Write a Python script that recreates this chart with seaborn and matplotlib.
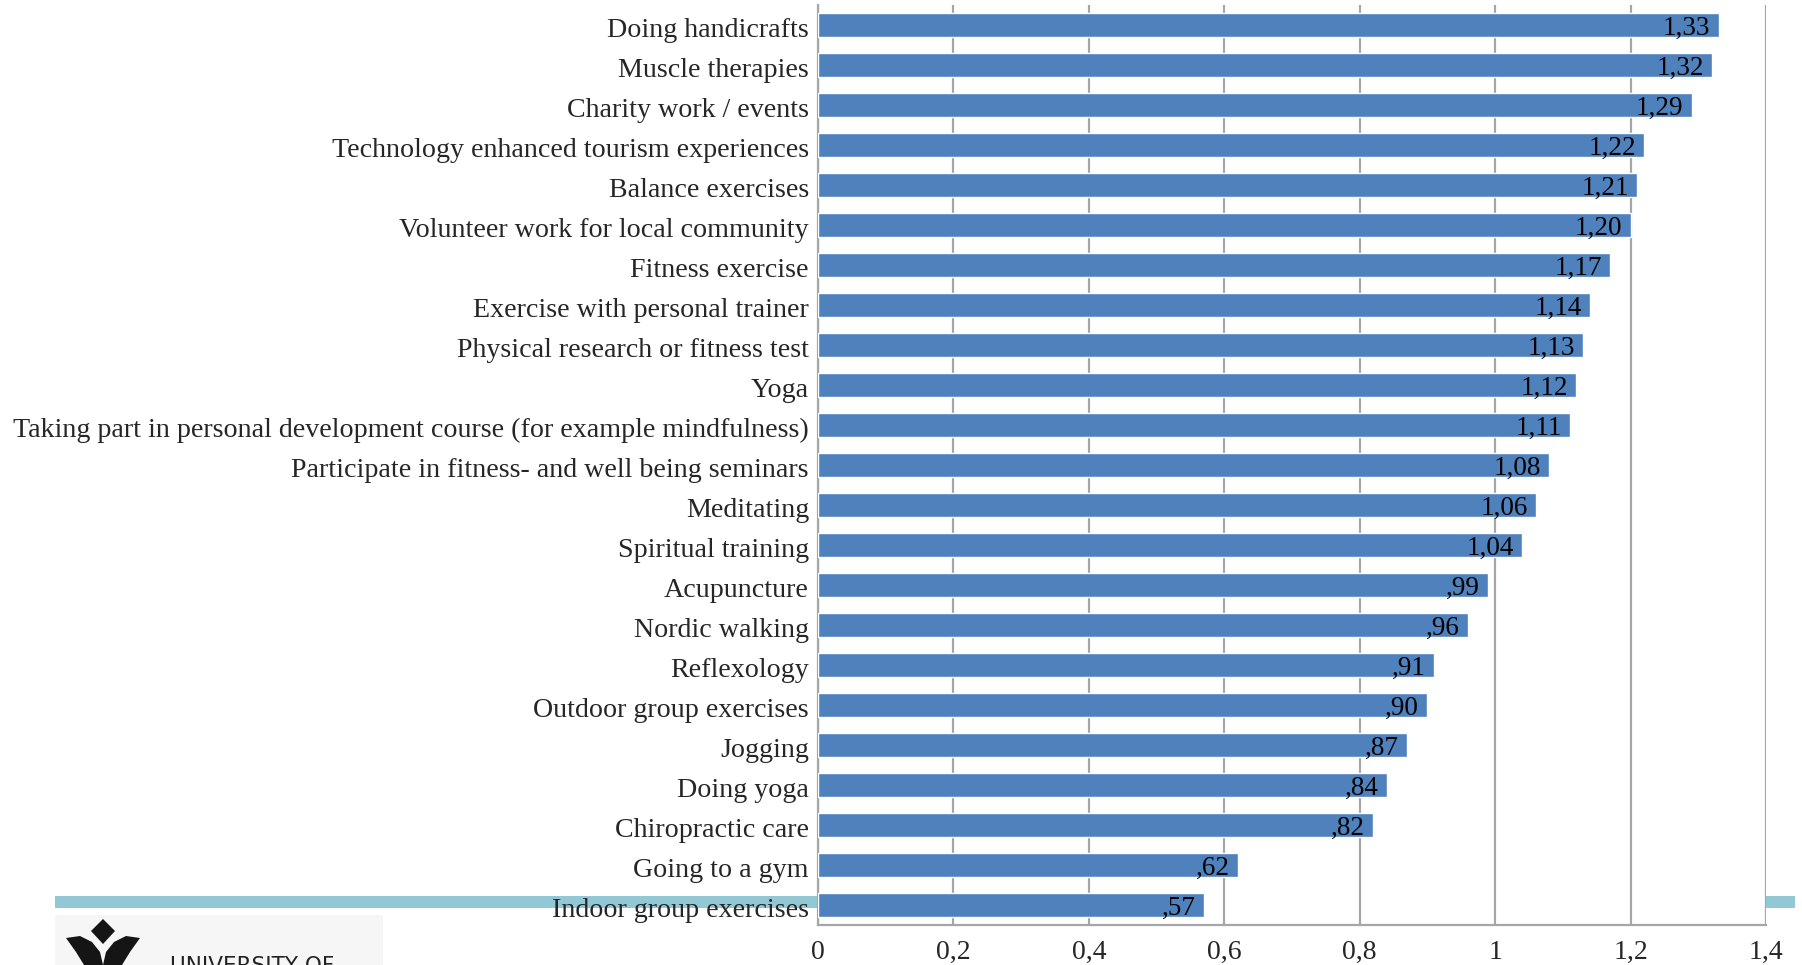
import matplotlib
matplotlib.use("Agg")
import matplotlib.pyplot as plt
from matplotlib.patches import Rectangle, Polygon
from matplotlib.transforms import ScaledTranslation
import seaborn as sns
import pandas as pd

activities = [
    "Doing handicrafts",
    "Muscle therapies",
    "Charity work / events",
    "Technology enhanced tourism experiences",
    "Balance exercises",
    "Volunteer work for local community",
    "Fitness exercise",
    "Exercise with personal trainer",
    "Physical research or fitness test",
    "Yoga",
    "Taking part in personal development course (for example mindfulness)",
    "Participate in fitness- and well being seminars",
    "Meditating",
    "Spiritual training",
    "Acupuncture",
    "Nordic walking",
    "Reflexology",
    "Outdoor group exercises",
    "Jogging",
    "Doing yoga",
    "Chiropractic care",
    "Going to a gym",
    "Indoor group exercises",
]
scores = [1.33, 1.32, 1.29, 1.22, 1.21, 1.20, 1.17, 1.14, 1.13, 1.12, 1.11,
          1.08, 1.06, 1.04, 0.99, 0.96, 0.91, 0.90, 0.87, 0.84, 0.82, 0.62, 0.57]
x_ticks = [0, 0.2, 0.4, 0.6, 0.8, 1.0, 1.2, 1.4]
x_tick_labels = ["0", "0,2", "0,4", "0,6", "0,8", "1", "1,2", "1,4"]

df = pd.DataFrame({"activity": activities, "score": scores})

sns.set_theme(style="white")
plt.rcParams["font.family"] = ["Liberation Serif", "DejaVu Serif"]

W, H = 1802, 965
fig = plt.figure(figsize=(W / 100, H / 100), dpi=100)
fig.patch.set_facecolor("white")

# slide decoration: teal rule running behind the chart
fig.add_artist(Rectangle((55 / W, 1 - 908 / H), (1795 - 55) / W, 12 / H,
                         transform=fig.transFigure, facecolor="#92C8D5",
                         edgecolor="none", zorder=-2))

ax = fig.add_axes([818 / W, 1 - 925 / H, (1766 - 818) / W, (925 - 5) / H])
ax.set_facecolor("white")

sns.barplot(data=df, x="score", y="activity", orient="h", color="#4F81BD",
            saturation=1, width=0.58, ax=ax, zorder=3)

ax.set_xlim(0, 1.4)
ax.set_ylim(len(activities) - 0.5, -0.5)
ax.set_xticks(x_ticks)
ax.set_xticklabels(x_tick_labels)
ax.set_xlabel("")
ax.set_ylabel("")
ax.xaxis.grid(True, color="#A6A6A6", linewidth=1.6, zorder=0)
ax.set_axisbelow(True)
for side in ("top", "right"):
    ax.spines[side].set_visible(False)
for side in ("left", "bottom"):
    ax.spines[side].set_color("#A6A6A6")
    ax.spines[side].set_linewidth(1.6)
ax.tick_params(axis="y", length=0, pad=6.5, labelsize=20.2)
ax.tick_params(axis="x", length=0, pad=11, labelsize=20)

# nudge category labels slightly downward
shift = ScaledTranslation(0, -0.025, fig.dpi_scale_trans)
for lbl in ax.get_yticklabels():
    lbl.set_transform(lbl.get_transform() + shift)


def fmt(v):
    s = f"{v:.2f}".replace(".", ",")
    return s[1:] if v < 1 else s


for i, v in enumerate(scores):
    ax.text(v - 0.012, i + 0.08, fmt(v), ha="right", va="center",
            fontsize=19.5, color="black", zorder=5)

# university logo, lower left
logo = fig.add_axes([55 / W, 0, (383 - 55) / W, (965 - 915) / H])
logo.set_xlim(55, 383)
logo.set_ylim(965, 915)
logo.axis("off")
logo.add_patch(Rectangle((55, 915), 328, 50, facecolor="#F6F6F6", edgecolor="none"))
logo.add_patch(Polygon([(103, 919), (115, 931), (103, 944), (91, 931)],
                       closed=True, facecolor="#151515", edgecolor="none"))
logo.add_patch(Polygon([(66, 938), (80, 936), (92, 942), (100, 952), (103, 965),
                        (84, 965), (76, 952)],
                       closed=True, facecolor="#151515", edgecolor="none"))
logo.add_patch(Polygon([(140, 938), (126, 936), (114, 942), (106, 952), (103, 965),
                        (122, 965), (130, 952)],
                       closed=True, facecolor="#151515", edgecolor="none"))
logo.text(170, 956, "UNIVERSITY OF", ha="left", va="top", fontsize=15.5,
          family="DejaVu Sans", color="#222222")

fig.savefig("out.png", dpi=100, facecolor="white")
